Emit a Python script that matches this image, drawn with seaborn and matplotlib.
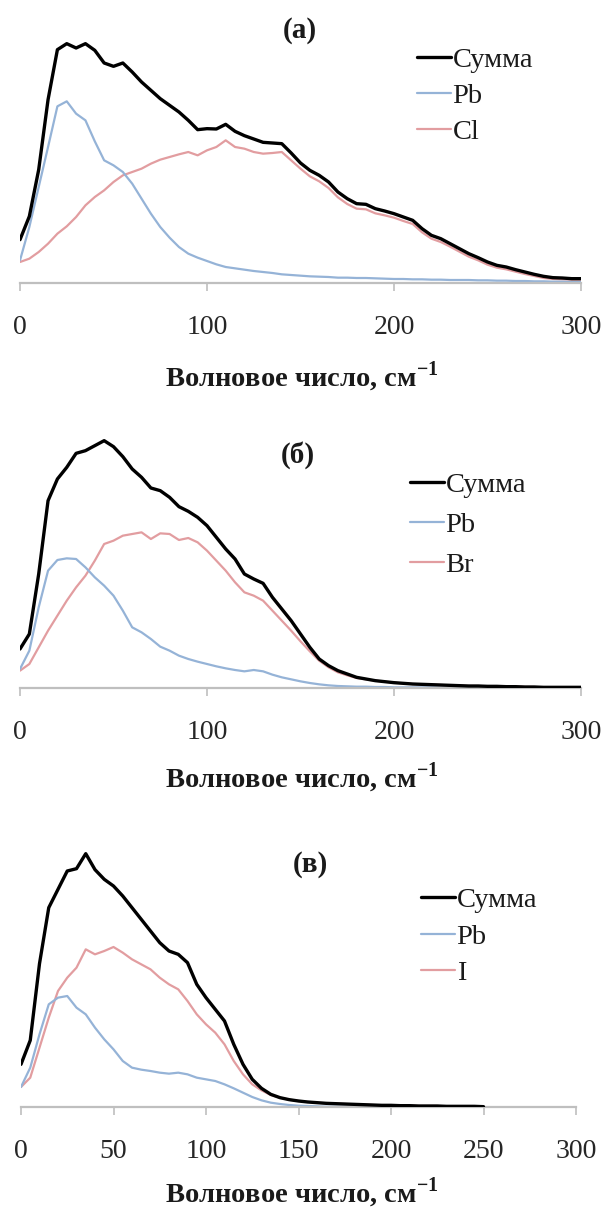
import numpy as np
import pandas as pd
import matplotlib
matplotlib.use("Agg")
import matplotlib.pyplot as plt
import seaborn as sns

sns.set_theme(style="white")
plt.rcParams['font.family'] = ['Liberation Serif', 'DejaVu Serif']
plt.rcParams['mathtext.fontset'] = 'custom'
plt.rcParams['mathtext.rm'] = 'Liberation Serif'
plt.rcParams['mathtext.bf'] = 'Liberation Serif:bold'

# ---------------- data ----------------
wave_ab = list(range(0, 301, 5))
wave_c = list(range(0, 251, 5))

sum_a = [130, 200, 340, 550, 700, 718, 705, 718, 698, 660, 650, 660, 633, 603, 578, 553,
         533, 513, 488, 460, 463, 462, 476, 455, 442, 432, 422, 420, 418, 390, 360, 338,
         323, 303, 273, 253, 238, 236, 223, 216, 208, 198, 188, 163, 143, 133, 118, 103,
         88, 76, 63, 53, 48, 40, 33, 26, 20, 16, 15, 13, 13]
pb_a = [68, 168, 288, 408, 530, 545, 508, 488, 425, 368, 353, 333, 298, 253, 208, 168,
        136, 108, 88, 76, 66, 56, 48, 44, 40, 36, 33, 30, 26, 24, 22, 20,
        19, 18, 16, 16, 15, 15, 14, 13, 12, 12, 11, 11, 10, 10, 9, 9,
        9, 8, 8, 7, 7, 6, 6, 5, 5, 4, 4, 3, 3]
cl_a = [63, 73, 93, 118, 148, 170, 198, 233, 258, 278, 303, 323, 333, 343, 358, 370,
        378, 386, 393, 383, 398, 408, 428, 408, 403, 393, 388, 390, 393, 368, 343, 320,
        305, 285, 257, 237, 223, 221, 209, 203, 196, 186, 177, 152, 133, 123, 109, 94,
        79, 68, 55, 46, 41, 34, 27, 21, 15, 12, 11, 10, 10]

sum_b = [117, 162, 342, 562, 627, 662, 704, 712, 727, 742, 724, 694, 657, 632, 600, 592,
         572, 544, 530, 512, 487, 452, 417, 387, 342, 327, 314, 272, 237, 202, 162, 122,
         87, 67, 52, 42, 32, 27, 22, 19, 16, 14, 12, 11, 10, 9, 8, 7,
         6, 6, 5, 5, 4, 4, 3, 3, 2, 2, 2, 2, 2]
pb_b = [57, 112, 242, 352, 384, 389, 387, 362, 332, 307, 277, 232, 182, 167, 147, 124,
        112, 97, 87, 79, 72, 65, 59, 54, 50, 54, 50, 40, 32, 26, 20, 15,
        11, 8, 6, 5, 4, 4, 3, 3, 2, 2, 2, 2, 2, 1, 1, 1,
        1, 1, 1, 1, 1, 1, 1, 1, 1, 1, 1, 1, 1]
br_b = [52, 72, 122, 172, 217, 262, 302, 337, 382, 432, 442, 457, 462, 467, 447, 464,
        462, 444, 450, 437, 412, 382, 352, 317, 287, 277, 262, 232, 202, 172, 140, 110,
        82, 62, 47, 38, 30, 26, 22, 19, 16, 14, 12, 11, 10, 9, 8, 7,
        6, 6, 5, 5, 4, 4, 3, 3, 2, 2, 2, 2, 2]

sum_c = [128, 200, 430, 598, 653, 708, 715, 760, 712, 683, 663, 633, 598, 563, 528, 493,
         468, 458, 433, 368, 328, 293, 258, 188, 128, 83, 56, 38, 28, 22, 18, 15,
         13, 11, 10, 9, 8, 7, 6, 5, 5, 4, 4, 3, 3, 3, 2, 2,
         2, 2, 1]
pb_c = [60, 118, 218, 308, 328, 333, 298, 278, 238, 203, 173, 138, 118, 112, 108, 103,
        100, 103, 98, 88, 83, 78, 68, 56, 43, 30, 20, 13, 9, 6, 4, 3,
        2, 1, 1, 1, 1, 1, 1, 1, 1, 1, 1, 1, 1, 1, 1, 1,
        1, 1, 1]
i_c = [60, 88, 178, 268, 348, 388, 418, 473, 458, 468, 480, 463, 443, 428, 413, 388,
       368, 353, 318, 278, 248, 223, 188, 138, 98, 68, 50, 36, 28, 22, 18, 15,
       13, 11, 10, 9, 8, 7, 6, 5, 5, 4, 4, 3, 3, 3, 2, 2,
       2, 2, 1]

titles = ['(а)', '(б)', '(в)']
legend_names = [['Сумма', 'Pb', 'Cl'], ['Сумма', 'Pb', 'Br'], ['Сумма', 'Pb', 'I']]
ticks_ab = [0, 100, 200, 300]
ticks_c = [0, 50, 100, 150, 200, 250, 300]
xlabel = r'Волновое число, см$^{\mathbf{-1}}$'

colors = ['#000000', '#95B3D7', '#E29DA0']
widths = [2.4, 1.6, 1.6]

# ---------------- layout (pixels) ----------------
W, H = 608, 1209
fig = plt.figure(figsize=(W / 100, H / 100), dpi=100)

panels = [
    dict(x=wave_ab, ys=[sum_a, pb_a, cl_a], left=20, right=581, base=283, top=20,
         ticks=ticks_ab, title_xy=(300, 31), leg_xy=(417, 47), ls=0.35, xl_y=377),
    dict(x=wave_ab, ys=[sum_b, pb_b, br_b], left=20, right=581, base=688, top=420,
         ticks=ticks_ab, title_xy=(298, 455), leg_xy=(410, 472), ls=0.5, xl_y=778),
    dict(x=wave_c, ys=[sum_c, pb_c, i_c], left=21, right=576, base=1107, top=830,
         ticks=ticks_c, title_xy=(310, 865), leg_xy=(421, 887), ls=0.38, xl_y=1193),
]

for i, p in enumerate(panels):
    ax = fig.add_axes([p['left'] / W, 1 - p['base'] / H,
                       (p['right'] - p['left']) / W, (p['base'] - p['top']) / H])
    for k, (name, yv) in enumerate(zip(legend_names[i], p['ys'])):
        df = pd.DataFrame({'x': p['x'], 'y': yv})
        sns.lineplot(data=df, x='x', y='y', ax=ax, color=colors[k], lw=widths[k],
                     label=name, zorder=4 if k == 0 else 3 - k * 0.5)
    ax.set_xlim(0, 300)
    ax.set_ylim(0, (p['base'] - p['top']) * 3)
    ax.set_yticks([])
    ax.set_ylabel('')
    for s in ['top', 'right', 'left']:
        ax.spines[s].set_visible(False)
    ax.spines['bottom'].set_color('#BFBFBF')
    ax.spines['bottom'].set_linewidth(1.6)
    ax.set_xticks(p['ticks'])
    ax.tick_params(axis='x', direction='out', length=6, width=1.2, color='#BFBFBF',
                   labelsize=20, labelcolor='#262626', pad=17, bottom=True)
    ax.set_xlabel(xlabel, fontsize=20.5, fontweight='bold', color='#1a1a1a')
    ax.xaxis.set_label_coords(
        (302 - p['left']) / (p['right'] - p['left']),
        -(p['xl_y'] - p['base']) / (p['base'] - p['top']))
    ax.xaxis.label.set_va('center')
    h, l = ax.get_legend_handles_labels()
    leg = ax.legend(h, l, loc='upper left',
                    bbox_to_anchor=(p['leg_xy'][0] / W, 1 - p['leg_xy'][1] / H),
                    bbox_transform=fig.transFigure, frameon=False, fontsize=20.5,
                    handlelength=1.2, handletextpad=0.05, labelspacing=p['ls'],
                    borderpad=0, borderaxespad=0)
    for t in leg.get_texts():
        t.set_color('#1a1a1a')
    fig.text(p['title_xy'][0] / W, 1 - p['title_xy'][1] / H, titles[i],
             fontsize=21, fontweight='bold', ha='center', va='center', color='#1a1a1a')

fig.savefig('out.png', dpi=100)
